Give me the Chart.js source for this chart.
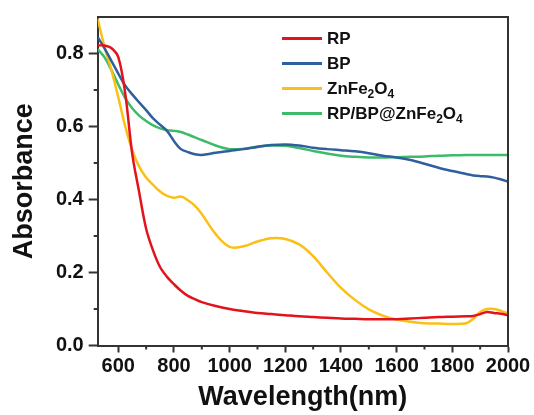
<!DOCTYPE html>
<html>
<head>
<meta charset="utf-8">
<script src="https://cdn.jsdelivr.net/npm/chart.js@4.4.1/dist/chart.umd.min.js"></script>
<style>
  body { margin: 0; background: #fff; }
  #wrap { position: relative; width: 534px; height: 415px; }
  #legend { position: absolute; left: 282px; top: 26px; font: bold 17px "Liberation Sans", Arial, sans-serif; color: #111; }
  .row { height: 25px; display: flex; align-items: center; white-space: nowrap; }
  .swatch { width: 40px; height: 3px; margin-right: 5px; }
  sub { font-size: 12px; vertical-align: -4px; line-height: 0; }
</style>
</head>
<body>
<div id="wrap">
  <canvas id="chart" width="534" height="415"></canvas>
  <div id="legend"></div>
</div>
<script>
// Wavelength (nm) sampled off the figure
const wavelengths = [526, 550, 575, 600, 625, 650, 675, 700, 725, 750, 775, 800, 825, 850, 875, 900,
  950, 1000, 1050, 1100, 1150, 1200, 1250, 1300, 1350, 1400, 1450, 1500, 1550, 1600, 1650, 1700,
  1750, 1800, 1850, 1875, 1900, 1925, 1950, 1975, 2000];

const rp = [0.822, 0.822, 0.815, 0.79, 0.69, 0.525, 0.42, 0.32, 0.26, 0.215, 0.188, 0.168, 0.150, 0.136, 0.127, 0.119,
  0.108, 0.100, 0.094, 0.089, 0.086, 0.083, 0.080, 0.078, 0.076, 0.074, 0.073, 0.072, 0.072, 0.072, 0.074, 0.076,
  0.078, 0.079, 0.080, 0.081, 0.086, 0.092, 0.089, 0.087, 0.083];

const bp = [0.845, 0.815, 0.78, 0.745, 0.712, 0.688, 0.666, 0.645, 0.622, 0.605, 0.588, 0.56, 0.538, 0.530, 0.524, 0.522,
  0.528, 0.533, 0.538, 0.544, 0.549, 0.551, 0.548, 0.542, 0.538, 0.535, 0.532, 0.527, 0.520, 0.515, 0.508, 0.498,
  0.487, 0.478, 0.470, 0.466, 0.464, 0.463, 0.460, 0.455, 0.449];

const znfe = [0.895, 0.82, 0.755, 0.68, 0.60, 0.535, 0.49, 0.46, 0.44, 0.422, 0.41, 0.405, 0.408, 0.398, 0.383, 0.36,
  0.305, 0.27, 0.272, 0.285, 0.294, 0.292, 0.277, 0.245, 0.20, 0.158, 0.125, 0.099, 0.082, 0.071, 0.065, 0.061,
  0.060, 0.059, 0.061, 0.073, 0.092, 0.100, 0.100, 0.095, 0.088];

const composite = [0.812, 0.79, 0.755, 0.715, 0.678, 0.65, 0.63, 0.615, 0.603, 0.595, 0.59, 0.588, 0.585, 0.578, 0.570, 0.563,
  0.548, 0.538, 0.539, 0.545, 0.548, 0.547, 0.541, 0.533, 0.526, 0.520, 0.517, 0.515, 0.515, 0.516, 0.517, 0.518,
  0.520, 0.521, 0.522, 0.522, 0.522, 0.522, 0.522, 0.522, 0.522];

const seriesNames = ['RP', 'BP', 'ZnFe2O4', 'RP/BP@ZnFe2O4'];
const seriesColors = ['#e3131b', '#2f5f9c', '#fbbf16', '#3dbb6a'];

const xTicks = [600, 800, 1000, 1200, 1400, 1600, 1800, 2000];
const xMinor = [700, 900, 1100, 1300, 1500, 1700, 1900];
const yTicks = [0, 0.2, 0.4, 0.6, 0.8];
const yMinor = [0.1, 0.3, 0.5, 0.7];

const FONT = '"Liberation Sans", Arial, sans-serif';
const AXIS = '#333';

// minor ticks plus the top/right frame
const frame = {
  id: 'frame',
  afterDraw(chart) {
    const { ctx, chartArea: a, scales: { x, y } } = chart;
    ctx.save();
    ctx.strokeStyle = AXIS;
    ctx.lineWidth = 2;
    ctx.beginPath();
    xMinor.forEach(v => {
      const px = x.getPixelForValue(v);
      ctx.moveTo(px, a.bottom);
      ctx.lineTo(px, a.bottom + 4);
    });
    yMinor.forEach(v => {
      const py = y.getPixelForValue(v);
      ctx.moveTo(a.left, py);
      ctx.lineTo(a.left - 4, py);
    });
    ctx.moveTo(a.left, a.top);
    ctx.lineTo(a.right, a.top);
    ctx.lineTo(a.right, a.bottom);
    ctx.stroke();
    ctx.restore();
  }
};

const allSeries = [rp, bp, znfe, composite];

new Chart(document.getElementById('chart'), {
  type: 'line',
  data: {
    datasets: allSeries.map((vals, i) => ({
      label: seriesNames[i],
      data: wavelengths.map((w, j) => ({ x: w, y: vals[j] })),
      borderColor: seriesColors[i],
      borderWidth: 2.5,
      pointRadius: 0,
      tension: 0.35,
      fill: false
    }))
  },
  options: {
    responsive: false,
    animation: false,
    layout: { padding: { top: 15, right: 26, left: 0, bottom: 0 } },
    plugins: { legend: { display: false }, tooltip: { enabled: false } },
    scales: {
      x: {
        type: 'linear', min: 526, max: 2000,
        afterBuildTicks: s => { s.ticks = xTicks.map(v => ({ value: v })); },
        afterFit: s => { s.height = 69.5; },
        ticks: { font: { family: FONT, size: 20, weight: 'bold' }, color: '#111', padding: 2, maxRotation: 0, autoSkip: false,
          callback: v => String(v) },
        grid: { drawOnChartArea: false, tickLength: 7, tickWidth: 2, tickColor: AXIS },
        border: { color: AXIS, width: 2 },
        title: { display: true, text: 'Wavelength(nm)', color: '#111',
          font: { family: FONT, size: 27, weight: 'bold', lineHeight: 1.2 }, padding: { top: 0, bottom: 1 } }
      },
      y: {
        min: 0, max: 0.9,
        afterBuildTicks: s => { s.ticks = yTicks.map(v => ({ value: v })); },
        afterFit: s => { s.width = 97.7; },
        ticks: { font: { family: FONT, size: 20, weight: 'bold' }, color: '#111', padding: 5,
          callback: v => v.toFixed(1) },
        grid: { drawOnChartArea: false, tickLength: 9, tickWidth: 2, tickColor: AXIS },
        border: { color: AXIS, width: 2 },
        title: { display: true, text: 'Absorbance', color: '#111',
          font: { family: FONT, size: 27, weight: 'bold', lineHeight: 1.2 }, padding: { top: 8, bottom: 0 } }
      }
    }
  },
  plugins: [frame]
});

// legend with real subscripts
const legend = document.getElementById('legend');
seriesNames.forEach((name, i) => {
  const row = document.createElement('div');
  row.className = 'row';
  row.innerHTML = '<span class="swatch" style="background:' + seriesColors[i] + '"></span>' +
    '<span>' + name.replace(/(\d)/g, '<sub>$1</sub>') + '</span>';
  legend.appendChild(row);
});
</script>
</body>
</html>
